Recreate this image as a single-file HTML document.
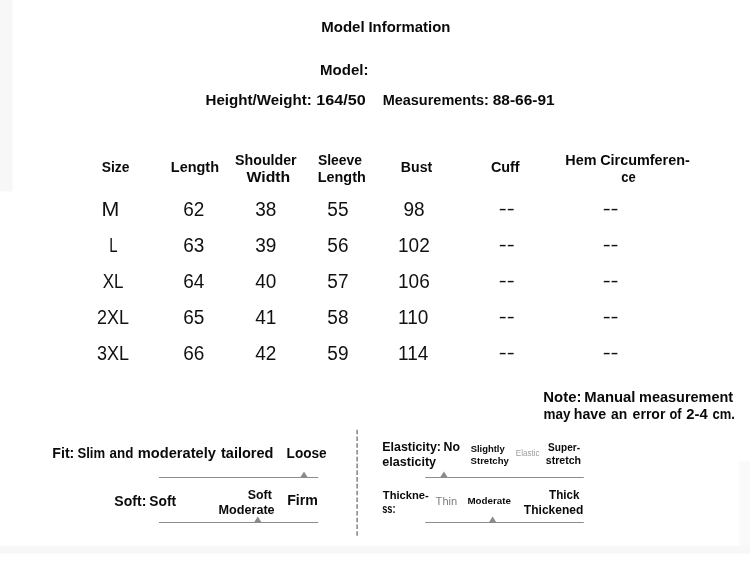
<!DOCTYPE html>
<html lang="en">
<head>
<meta charset="utf-8">
<title>Model Information</title>
<style>
html,body{margin:0;padding:0;background:#fff;}
body{width:750px;height:562px;position:relative;overflow:hidden;font-family:"Liberation Sans",sans-serif;}
.l{height:0;line-height:0;font-size:0;}
.t{position:absolute;left:0;white-space:nowrap;line-height:1;transform-origin:0 0;margin:0;padding:0;}
.bg{position:absolute;}
</style>
</head>
<body>
<div class="bg" style="left:0;top:0;width:13px;height:192px;background:linear-gradient(to right,#f7f7f7 0,#f7f7f7 12px,#fff 13px);"></div>
<div class="bg" style="left:0;top:191px;width:13px;height:1px;background:#fff;opacity:.5;"></div>
<div class="bg" style="left:0;top:545px;width:750px;height:10px;background:linear-gradient(to bottom,#fff 0,#f8f8f8 1.5px,#f7f7f7 7.5px,#fff 9.5px);"></div>
<div class="bg" style="left:738.5px;top:460.5px;width:11.5px;height:85.5px;background:#fafafa;"></div>
<svg class="bg" style="left:0;top:0;" width="750" height="562" viewBox="0 0 750 562">
<g fill="#8c8c8c">
<rect x="159" y="477" width="159.3" height="1"/>
<rect x="159" y="522" width="159.3" height="1"/>
<rect x="425.3" y="477" width="158.5" height="1"/>
<rect x="425.3" y="522" width="158.5" height="1"/>
</g>
<g fill="#8a8a8a">
<path d="M300.2 477.5 L304 471.6 L307.8 477.5 Z"/>
<path d="M254 522.5 L257.8 516.6 L261.6 522.5 Z"/>
<path d="M440.1 477.5 L443.9 471.6 L447.7 477.5 Z"/>
<path d="M488.8 522.5 L492.6 516.6 L496.4 522.5 Z"/>
</g>
<line x1="357.1" y1="429.7" x2="357.1" y2="537.4" stroke="#666" stroke-width="1.2" stroke-dasharray="4.6 2.17"/>
</svg>
<div class="l"><span class="t" style="top:20px;font-size:14px;font-weight:700;color:#0a0a0a;transform:translateX(321.26px) scaleX(1.0705);">Model</span> <span class="t" style="top:20px;font-size:14px;font-weight:700;color:#0a0a0a;transform:translateX(368.42px) scaleX(1.0649);">Information</span></div>
<div class="l"><span class="t" style="top:63px;font-size:14px;font-weight:700;color:#0a0a0a;transform:translateX(320.01px) scaleX(1.0743);">Model:</span></div>
<div class="l"><span class="t" style="top:93px;font-size:14px;font-weight:700;color:#0a0a0a;transform:translateX(205.58px) scaleX(1.0781);">Height/Weight:</span> <span class="t" style="top:93px;font-size:14px;font-weight:700;color:#0a0a0a;transform:translateX(316.36px) scaleX(1.1544);">164/50</span></div>
<div class="l"><span class="t" style="top:93px;font-size:14px;font-weight:700;color:#0a0a0a;transform:translateX(382.65px) scaleX(1.0342);">Measurements:</span> <span class="t" style="top:93px;font-size:14px;font-weight:700;color:#0a0a0a;transform:translateX(492.68px) scaleX(1.1055);">88-66-91</span></div>
<div class="l"><span class="t" style="top:160px;font-size:14px;font-weight:700;color:#0a0a0a;transform:translateX(101.71px) scaleX(0.9900);">Size</span></div>
<div class="l"><span class="t" style="top:160px;font-size:14px;font-weight:700;color:#0a0a0a;transform:translateX(170.79px) scaleX(1.0334);">Length</span></div>
<div class="l"><span class="t" style="top:153px;font-size:14px;font-weight:700;color:#0a0a0a;transform:translateX(235.02px) scaleX(1.0159);">Shoulder</span></div>
<div class="l"><span class="t" style="top:170px;font-size:14px;font-weight:700;color:#0a0a0a;transform:translateX(246.55px) scaleX(1.1277);">Width</span></div>
<div class="l"><span class="t" style="top:153px;font-size:14px;font-weight:700;color:#0a0a0a;transform:translateX(317.97px) scaleX(0.9912);">Sleeve</span></div>
<div class="l"><span class="t" style="top:170px;font-size:14px;font-weight:700;color:#0a0a0a;transform:translateX(317.74px) scaleX(1.0286);">Length</span></div>
<div class="l"><span class="t" style="top:160px;font-size:14px;font-weight:700;color:#0a0a0a;transform:translateX(400.86px) scaleX(1.0073);">Bust</span></div>
<div class="l"><span class="t" style="top:160px;font-size:14px;font-weight:700;color:#0a0a0a;transform:translateX(490.93px) scaleX(1.0263);">Cuff</span></div>
<div class="l"><span class="t" style="top:153px;font-size:14px;font-weight:700;color:#0a0a0a;transform:translateX(565.36px) scaleX(1.0275);">Hem</span> <span class="t" style="top:153px;font-size:14px;font-weight:700;color:#0a0a0a;transform:translateX(600.21px) scaleX(1.0280);">Circumferen-</span></div>
<div class="l"><span class="t" style="top:170px;font-size:14px;font-weight:700;color:#0a0a0a;transform:translateX(621.22px) scaleX(0.9262);">ce</span></div>
<div class="l"><span class="t" style="top:390px;font-size:14px;font-weight:700;color:#0a0a0a;transform:translateX(543.32px) scaleX(1.0647);">Note:</span> <span class="t" style="top:390px;font-size:14px;font-weight:700;color:#0a0a0a;transform:translateX(584.27px) scaleX(1.0600);">Manual</span> <span class="t" style="top:390px;font-size:14px;font-weight:700;color:#0a0a0a;transform:translateX(639.09px) scaleX(1.0324);">measurement</span></div>
<div class="l"><span class="t" style="top:407px;font-size:14px;font-weight:700;color:#0a0a0a;transform:translateX(543.40px) scaleX(0.9630);">may</span> <span class="t" style="top:407px;font-size:14px;font-weight:700;color:#0a0a0a;transform:translateX(573.76px) scaleX(1.0139);">have</span> <span class="t" style="top:407px;font-size:14px;font-weight:700;color:#0a0a0a;transform:translateX(611.08px) scaleX(0.9888);">an</span> <span class="t" style="top:407px;font-size:14px;font-weight:700;color:#0a0a0a;transform:translateX(632.59px) scaleX(1.0040);">error</span> <span class="t" style="top:407px;font-size:14px;font-weight:700;color:#0a0a0a;transform:translateX(669.53px) scaleX(0.9156);">of</span> <span class="t" style="top:407px;font-size:14px;font-weight:700;color:#0a0a0a;transform:translateX(686.29px) scaleX(1.0600);">2-4</span> <span class="t" style="top:407px;font-size:14px;font-weight:700;color:#0a0a0a;transform:translateX(712.50px) scaleX(0.9271);">cm.</span></div>
<div class="l"><span class="t" style="top:446px;font-size:14px;font-weight:700;color:#0a0a0a;transform:translateX(52.31px) scaleX(1.0123);">Fit:</span> <span class="t" style="top:446px;font-size:14px;font-weight:700;color:#0a0a0a;transform:translateX(77.49px) scaleX(0.9360);">Slim</span> <span class="t" style="top:446px;font-size:14px;font-weight:700;color:#0a0a0a;transform:translateX(109.54px) scaleX(0.9564);">and</span> <span class="t" style="top:446px;font-size:14px;font-weight:700;color:#0a0a0a;transform:translateX(137.78px) scaleX(1.0450);">moderately</span> <span class="t" style="top:446px;font-size:14px;font-weight:700;color:#0a0a0a;transform:translateX(221.00px) scaleX(1.0362);">tailored</span></div>
<div class="l"><span class="t" style="top:446px;font-size:14px;font-weight:700;color:#0a0a0a;transform:translateX(286.57px) scaleX(0.9728);">Loose</span></div>
<div class="l"><span class="t" style="top:494px;font-size:14px;font-weight:700;color:#0a0a0a;transform:translateX(114.34px) scaleX(1.0028);">Soft:</span> <span class="t" style="top:494px;font-size:14px;font-weight:700;color:#0a0a0a;transform:translateX(149.37px) scaleX(0.9820);">Soft</span></div>
<div class="l"><span class="t" style="top:489px;font-size:12.5px;font-weight:700;color:#0a0a0a;transform:translateX(247.64px) scaleX(0.9926);">Soft</span></div>
<div class="l"><span class="t" style="top:504px;font-size:12.5px;font-weight:700;color:#0a0a0a;transform:translateX(218.46px) scaleX(1.0112);">Moderate</span></div>
<div class="l"><span class="t" style="top:493px;font-size:14px;font-weight:700;color:#0a0a0a;transform:translateX(287.17px) scaleX(1.0128);">Firm</span></div>
<div class="l"><span class="t" style="top:440px;font-size:13px;font-weight:700;color:#0a0a0a;transform:translateX(382.26px) scaleX(0.9556);">Elasticity:</span> <span class="t" style="top:440px;font-size:13px;font-weight:700;color:#0a0a0a;transform:translateX(443.50px) scaleX(0.9474);">No</span></div>
<div class="l"><span class="t" style="top:455px;font-size:13px;font-weight:700;color:#0a0a0a;transform:translateX(382.25px) scaleX(0.9674);">elasticity</span></div>
<div class="l"><span class="t" style="top:444px;font-size:9.5px;font-weight:700;color:#0a0a0a;transform:translateX(470.68px) scaleX(0.9916);">Slightly</span></div>
<div class="l"><span class="t" style="top:456px;font-size:9.5px;font-weight:700;color:#0a0a0a;transform:translateX(470.60px) scaleX(1.0057);">Stretchy</span></div>
<div class="l"><span class="t" style="top:449px;font-size:8.5px;font-weight:400;color:#9c9c9c;transform:translateX(515.87px) scaleX(0.9431);">Elastic</span></div>
<div class="l"><span class="t" style="top:442px;font-size:11.5px;font-weight:700;color:#0a0a0a;transform:translateX(548.10px) scaleX(0.8767);">Super-</span></div>
<div class="l"><span class="t" style="top:455px;font-size:11.5px;font-weight:700;color:#0a0a0a;transform:translateX(545.77px) scaleX(0.9206);">stretch</span></div>
<div class="l"><span class="t" style="top:490px;font-size:11.5px;font-weight:700;color:#0a0a0a;transform:translateX(382.82px) scaleX(0.9727);">Thickne-</span></div>
<div class="l"><span class="t" style="top:503px;font-size:12px;font-weight:700;color:#0a0a0a;transform:translateX(382.18px) scaleX(0.7699);">ss:</span></div>
<div class="l"><span class="t" style="top:496px;font-size:11.5px;font-weight:400;color:#808080;transform:translateX(435.61px) scaleX(0.9643);">Thin</span></div>
<div class="l"><span class="t" style="top:496px;font-size:9.5px;font-weight:700;color:#0a0a0a;transform:translateX(467.47px) scaleX(1.0281);">Moderate</span></div>
<div class="l"><span class="t" style="top:488px;font-size:13.5px;font-weight:700;color:#0a0a0a;transform:translateX(549.09px) scaleX(0.8625);">Thick</span></div>
<div class="l"><span class="t" style="top:503px;font-size:13.5px;font-weight:700;color:#0a0a0a;transform:translateX(523.87px) scaleX(0.8914);">Thickened</span></div>
<div class="l"><span class="t" style="top:200px;font-size:19.5px;font-weight:400;color:#111;transform:translateX(101.44px) scaleX(1.0964);">M</span></div>
<div class="l"><span class="t" style="top:236px;font-size:19.5px;font-weight:400;color:#111;transform:translateX(109.23px) scaleX(0.7674);">L</span></div>
<div class="l"><span class="t" style="top:272px;font-size:19.5px;font-weight:400;color:#111;transform:translateX(102.69px) scaleX(0.8686);">XL</span></div>
<div class="l"><span class="t" style="top:308px;font-size:19.5px;font-weight:400;color:#111;transform:translateX(96.98px) scaleX(0.9195);">2XL</span></div>
<div class="l"><span class="t" style="top:344px;font-size:19.5px;font-weight:400;color:#111;transform:translateX(97.06px) scaleX(0.9218);">3XL</span></div>
<div class="l"><span class="t" style="top:200px;font-size:19.5px;font-weight:400;color:#111;transform:translateX(183.13px) scaleX(0.9750);">62</span></div>
<div class="l"><span class="t" style="top:236px;font-size:19.5px;font-weight:400;color:#111;transform:translateX(183.13px) scaleX(0.9750);">63</span></div>
<div class="l"><span class="t" style="top:272px;font-size:19.5px;font-weight:400;color:#111;transform:translateX(183.13px) scaleX(0.9750);">64</span></div>
<div class="l"><span class="t" style="top:308px;font-size:19.5px;font-weight:400;color:#111;transform:translateX(183.13px) scaleX(0.9750);">65</span></div>
<div class="l"><span class="t" style="top:344px;font-size:19.5px;font-weight:400;color:#111;transform:translateX(183.13px) scaleX(0.9750);">66</span></div>
<div class="l"><span class="t" style="top:200px;font-size:19.5px;font-weight:400;color:#111;transform:translateX(255.21px) scaleX(0.9750);">38</span></div>
<div class="l"><span class="t" style="top:236px;font-size:19.5px;font-weight:400;color:#111;transform:translateX(255.21px) scaleX(0.9750);">39</span></div>
<div class="l"><span class="t" style="top:272px;font-size:19.5px;font-weight:400;color:#111;transform:translateX(255.21px) scaleX(0.9750);">40</span></div>
<div class="l"><span class="t" style="top:308px;font-size:19.5px;font-weight:400;color:#111;transform:translateX(255.21px) scaleX(0.9750);">41</span></div>
<div class="l"><span class="t" style="top:344px;font-size:19.5px;font-weight:400;color:#111;transform:translateX(255.21px) scaleX(0.9750);">42</span></div>
<div class="l"><span class="t" style="top:200px;font-size:19.5px;font-weight:400;color:#111;transform:translateX(327.37px) scaleX(0.9750);">55</span></div>
<div class="l"><span class="t" style="top:236px;font-size:19.5px;font-weight:400;color:#111;transform:translateX(327.37px) scaleX(0.9750);">56</span></div>
<div class="l"><span class="t" style="top:272px;font-size:19.5px;font-weight:400;color:#111;transform:translateX(327.37px) scaleX(0.9750);">57</span></div>
<div class="l"><span class="t" style="top:308px;font-size:19.5px;font-weight:400;color:#111;transform:translateX(327.37px) scaleX(0.9750);">58</span></div>
<div class="l"><span class="t" style="top:344px;font-size:19.5px;font-weight:400;color:#111;transform:translateX(327.37px) scaleX(0.9750);">59</span></div>
<div class="l"><span class="t" style="top:200px;font-size:19.5px;font-weight:400;color:#111;transform:translateX(403.41px) scaleX(0.9750);">98</span></div>
<div class="l"><span class="t" style="top:236px;font-size:19.5px;font-weight:400;color:#111;transform:translateX(398.05px) scaleX(0.9750);">102</span></div>
<div class="l"><span class="t" style="top:272px;font-size:19.5px;font-weight:400;color:#111;transform:translateX(398.05px) scaleX(0.9750);">106</span></div>
<div class="l"><span class="t" style="top:308px;font-size:19.5px;font-weight:400;color:#111;transform:translateX(398.05px) scaleX(0.9750);">110</span></div>
<div class="l"><span class="t" style="top:344px;font-size:19.5px;font-weight:400;color:#111;transform:translateX(398.05px) scaleX(0.9750);">114</span></div>
<div class="l"><span class="t" style="top:200px;font-size:18px;font-weight:400;color:#111;transform:translateX(498.78px) scaleX(1.3260);">--</span></div>
<div class="l"><span class="t" style="top:200px;font-size:18px;font-weight:400;color:#111;transform:translateX(602.67px) scaleX(1.3266);">--</span></div>
<div class="l"><span class="t" style="top:236px;font-size:18px;font-weight:400;color:#111;transform:translateX(498.78px) scaleX(1.3260);">--</span></div>
<div class="l"><span class="t" style="top:236px;font-size:18px;font-weight:400;color:#111;transform:translateX(602.67px) scaleX(1.3266);">--</span></div>
<div class="l"><span class="t" style="top:272px;font-size:18px;font-weight:400;color:#111;transform:translateX(498.78px) scaleX(1.3260);">--</span></div>
<div class="l"><span class="t" style="top:272px;font-size:18px;font-weight:400;color:#111;transform:translateX(602.67px) scaleX(1.3266);">--</span></div>
<div class="l"><span class="t" style="top:308px;font-size:18px;font-weight:400;color:#111;transform:translateX(498.78px) scaleX(1.3260);">--</span></div>
<div class="l"><span class="t" style="top:308px;font-size:18px;font-weight:400;color:#111;transform:translateX(602.67px) scaleX(1.3266);">--</span></div>
<div class="l"><span class="t" style="top:344px;font-size:18px;font-weight:400;color:#111;transform:translateX(498.78px) scaleX(1.3260);">--</span></div>
<div class="l"><span class="t" style="top:344px;font-size:18px;font-weight:400;color:#111;transform:translateX(602.67px) scaleX(1.3266);">--</span></div>
</body>
</html>
